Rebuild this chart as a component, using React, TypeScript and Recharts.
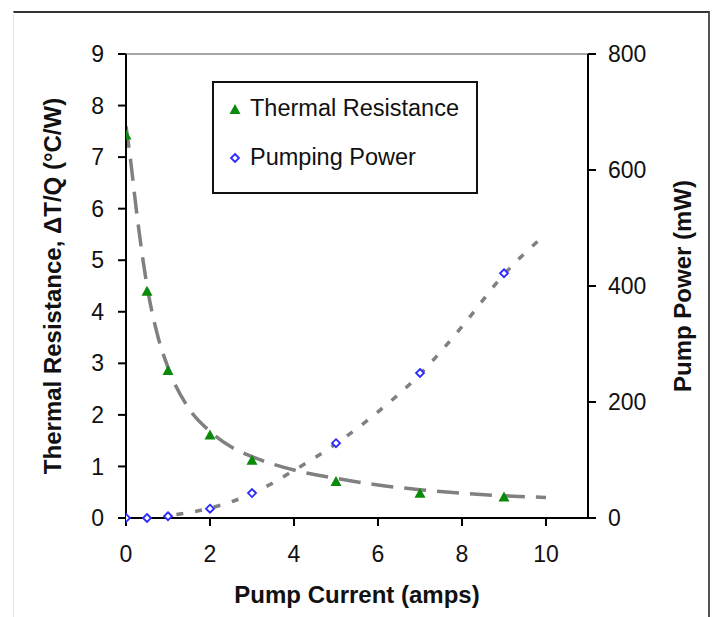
import { ComposedChart, Line, Scatter, XAxis, YAxis, ReferenceLine } from 'recharts';

const currentTicks = [0, 2, 4, 6, 8, 10];
const resistanceTicks = [0, 1, 2, 3, 4, 5, 6, 7, 8, 9];
const powerTicks = [0, 200, 400, 600, 800];

// measured points
const pumpCurrent = [0, 0.5, 1, 2, 3, 5, 7, 9];
const thermalResistance = [7.42, 4.39, 2.85, 1.6, 1.11, 0.7, 0.47, 0.4];
const pumpingPower = [0, 0, 3, 16, 43, 129, 250, 422];

// trend lines
const resistanceFitX = [0, 0.1, 0.25, 0.5, 0.75, 1, 1.5, 2, 2.5, 3, 4, 5, 6, 7, 8, 9, 10];
const resistanceFitY = [7.6, 7.0, 5.95, 4.5, 3.55, 2.92, 2.12, 1.68, 1.38, 1.19, 0.93, 0.77, 0.64, 0.55, 0.48, 0.43, 0.4];
const powerFitX = [1.2, 2, 3, 4, 5, 6, 7, 8, 9, 10];
const powerFitY = [6, 17, 42, 82, 128, 183, 248, 330, 420, 490];

const zip = (xs: number[], ys: number[]) => xs.map((x, i) => ({ x, y: ys[i] }));

const resistanceData = zip(pumpCurrent, thermalResistance);
const powerData = zip(pumpCurrent, pumpingPower);
const resistanceFit = zip(resistanceFitX, resistanceFitY);
const powerFit = zip(powerFitX, powerFitY);

const FONT = '"Liberation Sans", Arial, sans-serif';
const GREEN = '#0a8a0a';
const BLUE = '#2a2aff';

const Triangle = (props: any) => {
  const { cx, cy } = props;
  if (cx == null || cy == null) return null;
  return <polygon points={`${cx},${cy - 6} ${cx + 5.5},${cy + 4} ${cx - 5.5},${cy + 4}`} fill={GREEN} />;
};

const Diamond = (props: any) => {
  const { cx, cy } = props;
  if (cx == null || cy == null) return null;
  return (
    <polygon
      points={`${cx},${cy - 4} ${cx + 4},${cy} ${cx},${cy + 4} ${cx - 4},${cy}`}
      fill="#fff"
      stroke={BLUE}
      strokeWidth={1.8}
    />
  );
};

const titleStyle = { fontFamily: FONT, fontSize: 24, fontWeight: 700, fill: '#111' };

const LeftTitle = (props: any) => {
  const { x, y, height } = props.viewBox;
  const cx = x + 52;
  const cy = y + height / 2;
  return (
    <text x={cx} y={cy} transform={`rotate(-90 ${cx} ${cy})`} textAnchor="middle" dominantBaseline="central" style={titleStyle}>
      Thermal Resistance, ΔT/Q (°C/W)
    </text>
  );
};

const RightTitle = (props: any) => {
  const { x, y, height } = props.viewBox;
  const cx = x + 94;
  const cy = y + height / 2;
  return (
    <text x={cx} y={cy} transform={`rotate(-90 ${cx} ${cy})`} textAnchor="middle" dominantBaseline="central" style={titleStyle}>
      Pump Power (mW)
    </text>
  );
};

const BottomTitle = (props: any) => {
  const { x, y, width } = props.viewBox;
  return (
    <text x={x + width / 2} y={y + 76} textAnchor="middle" dominantBaseline="central" style={titleStyle}>
      Pump Current (amps)
    </text>
  );
};

const tickStyle = { fill: '#111', fontSize: 23, fontFamily: FONT };
const axisLine = { stroke: '#000', strokeWidth: 2 };

export default function App() {
  return (
    <div style={{ position: 'absolute', left: 0, top: 0, width: 713, height: 617, background: '#fff', overflow: 'hidden', fontFamily: FONT }}>
      {/* figure frame */}
      <div
        style={{
          position: 'absolute',
          left: 13,
          top: 11,
          width: 694,
          height: 640,
          borderTop: '2px solid #333',
          borderRight: '2px solid #555',
          borderLeft: '1px solid #e6e6e6',
        }}
      />
      <ComposedChart width={713} height={617} margin={{ top: 54, right: 0, bottom: 0, left: 0 }} style={{ position: 'absolute', left: 0, top: 0 }}>
        <XAxis
          type="number"
          dataKey="x"
          domain={[0, 11]}
          ticks={currentTicks}
          allowDataOverflow
          height={99}
          tickSize={8}
          tickMargin={20}
          tick={tickStyle}
          axisLine={axisLine}
          tickLine={axisLine}
          label={{ content: BottomTitle }}
        />
        <YAxis
          yAxisId="left"
          type="number"
          dataKey="y"
          domain={[0, 9]}
          ticks={resistanceTicks}
          width={126}
          tickSize={8}
          tickMargin={14}
          tick={tickStyle}
          axisLine={axisLine}
          tickLine={axisLine}
          label={{ content: LeftTitle }}
        />
        <YAxis
          yAxisId="right"
          orientation="right"
          type="number"
          dataKey="y"
          domain={[0, 800]}
          ticks={powerTicks}
          width={125}
          tickSize={8}
          tickMargin={12}
          tick={tickStyle}
          axisLine={axisLine}
          tickLine={axisLine}
          label={{ content: RightTitle }}
        />
        <ReferenceLine yAxisId="left" y={9} stroke="#8a8a8a" strokeWidth={1.5} />

        <Line
          yAxisId="left"
          data={resistanceFit}
          dataKey="y"
          type="monotone"
          stroke="#808080"
          strokeWidth={3.5}
          strokeDasharray="22 11"
          dot={false}
          activeDot={false}
          isAnimationActive={false}
        />
        <Line
          yAxisId="right"
          data={powerFit}
          dataKey="y"
          type="monotone"
          stroke="#808080"
          strokeWidth={3.5}
          strokeDasharray="7 12"
          dot={false}
          activeDot={false}
          isAnimationActive={false}
        />
        <Scatter yAxisId="left" data={resistanceData} dataKey="y" shape={Triangle} isAnimationActive={false} />
        <Scatter yAxisId="right" data={powerData} dataKey="y" shape={Diamond} isAnimationActive={false} />
      </ComposedChart>

      {/* legend */}
      <div
        style={{
          position: 'absolute',
          left: 212,
          top: 81,
          width: 262,
          height: 109,
          border: '2px solid #111',
          background: '#fff',
          fontSize: 23.5,
          color: '#111',
        }}
      >
        <div style={{ position: 'absolute', left: 14, top: 12, display: 'flex', alignItems: 'center', whiteSpace: 'nowrap' }}>
          <svg width={14} height={14} style={{ marginRight: 8 }}>
            <polygon points="7,2 12.5,12 1.5,12" fill={GREEN} />
          </svg>
          Thermal Resistance
        </div>
        <div style={{ position: 'absolute', left: 14, top: 61, display: 'flex', alignItems: 'center', whiteSpace: 'nowrap' }}>
          <svg width={14} height={14} style={{ marginRight: 8 }}>
            <polygon points="7,3 11,7 7,11 3,7" fill="#fff" stroke={BLUE} strokeWidth={1.8} />
          </svg>
          Pumping Power
        </div>
      </div>
    </div>
  );
}
